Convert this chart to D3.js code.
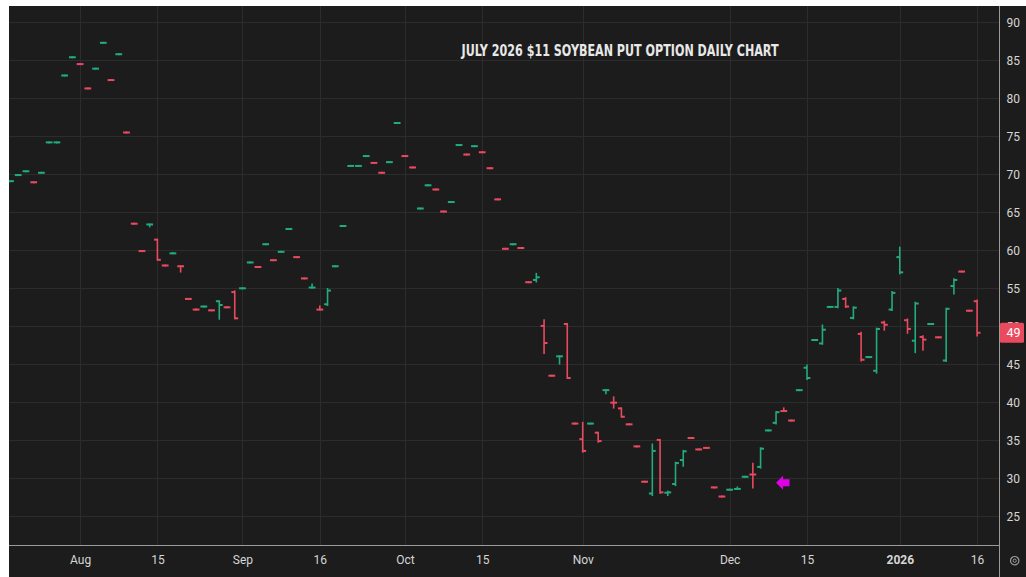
<!DOCTYPE html>
<html>
<head>
<meta charset="utf-8">
<script src="https://cdnjs.cloudflare.com/ajax/libs/d3/7.8.5/d3.min.js"></script>
<style>
  body { margin: 0; background: #ffffff; }
  svg { display: block; }
</style>
</head>
<body>
<div id="chart"></div>
<script>
// trading days shown on the chart
const dates = [
  "2025-07-21","2025-07-22","2025-07-23","2025-07-24","2025-07-25","2025-07-28","2025-07-29","2025-07-30","2025-07-31",
  "2025-08-01","2025-08-04","2025-08-05","2025-08-06","2025-08-07","2025-08-08","2025-08-11","2025-08-12","2025-08-13","2025-08-14","2025-08-15",
  "2025-08-18","2025-08-19","2025-08-20","2025-08-21","2025-08-22","2025-08-25","2025-08-26","2025-08-27","2025-08-28","2025-08-29",
  "2025-09-02","2025-09-03","2025-09-04","2025-09-05","2025-09-08","2025-09-09","2025-09-10","2025-09-11","2025-09-12","2025-09-15",
  "2025-09-16","2025-09-17","2025-09-18","2025-09-19","2025-09-22","2025-09-23","2025-09-24","2025-09-25","2025-09-26","2025-09-29","2025-09-30",
  "2025-10-01","2025-10-02","2025-10-03","2025-10-06","2025-10-07","2025-10-08","2025-10-09","2025-10-10","2025-10-13","2025-10-14","2025-10-15",
  "2025-10-16","2025-10-17","2025-10-20","2025-10-21","2025-10-22","2025-10-23","2025-10-24","2025-10-27","2025-10-28","2025-10-29","2025-10-30","2025-10-31",
  "2025-11-03","2025-11-04","2025-11-05","2025-11-06","2025-11-07","2025-11-10","2025-11-11","2025-11-12","2025-11-13","2025-11-14",
  "2025-11-17","2025-11-18","2025-11-19","2025-11-20","2025-11-21","2025-11-24","2025-11-25","2025-11-26","2025-11-28",
  "2025-12-01","2025-12-02","2025-12-03","2025-12-04","2025-12-05","2025-12-08","2025-12-09","2025-12-10","2025-12-11","2025-12-12",
  "2025-12-15","2025-12-16","2025-12-17","2025-12-18","2025-12-19","2025-12-22","2025-12-23","2025-12-24","2025-12-26","2025-12-29","2025-12-30","2025-12-31",
  "2026-01-02","2026-01-05","2026-01-06","2026-01-07","2026-01-08","2026-01-09","2026-01-12","2026-01-13","2026-01-14","2026-01-15","2026-01-16"
] ;

const opens = [
  69.1,69.9,70.4,68.95,70.2,74.2,74.2,83.0,85.4,
  84.5,81.3,83.9,87.3,82.4,85.8,75.5,63.5,59.9,63.4,61.4,58.0,59.6,57.9,53.6,52.2,52.6,52.1,53.3,52.5,54.5,
  55.0,58.4,57.8,60.8,58.7,59.8,62.8,59.1,56.3,55.1,52.2,52.9,57.9,63.2,71.1,71.1,72.4,71.5,70.2,71.6,76.75,
  72.4,70.9,65.5,68.55,68.0,65.1,66.35,73.85,72.6,73.7,72.9,70.8,66.7,60.2,60.8,60.3,55.8,56.1,50.05,43.5,46.05,50.3,37.2,
  35.15,37.2,36.0,41.6,39.95,39.2,37.1,34.2,29.55,28.0,35.05,28.1,29.25,32.4,35.3,33.8,34.0,28.8,27.6,
  28.5,28.6,30.2,30.5,31.5,36.3,37.3,38.85,37.6,41.6,44.55,48.2,47.75,52.55,52.55,53.6,51.1,49.0,45.95,44.15,50.5,52.2,
  59.1,50.8,48.1,48.6,50.3,48.55,45.5,55.3,57.2,52.05,53.3
] ;

const highs = [
  69.1,69.9,70.4,68.95,70.2,74.2,74.2,83.0,85.4,
  84.5,81.3,83.9,87.3,82.4,85.8,75.5,63.5,59.9,63.4,61.4,58.0,59.6,57.9,53.6,52.2,52.6,52.1,53.3,52.5,54.6,
  55.0,58.4,57.8,60.8,58.7,59.8,62.8,59.1,56.3,55.5,52.6,54.9,57.9,63.2,71.1,71.1,72.4,71.5,70.2,71.6,76.75,
  72.4,70.9,65.5,68.55,68.0,65.1,66.35,73.85,72.6,73.7,72.9,70.8,66.7,60.2,60.8,60.3,55.8,56.9,50.8,43.5,46.05,50.3,37.2,
  37.3,37.2,36.0,41.6,40.65,39.2,37.1,34.2,29.55,34.45,35.05,28.25,32.05,33.6,35.3,33.8,34.0,28.8,27.6,
  28.5,28.8,30.2,31.9,33.95,36.3,38.7,39.2,37.6,41.6,44.85,48.2,50.1,52.55,54.9,53.7,52.5,49.15,45.95,49.7,50.6,54.5,
  60.35,50.9,53.1,48.7,50.3,48.55,52.3,56.2,57.2,52.05,53.4
] ;

const lows = [
  69.1,69.9,70.4,68.95,70.2,74.2,74.2,83.0,85.4,
  84.5,81.3,83.9,87.3,82.4,85.8,75.5,63.5,59.9,63.15,58.75,58.0,59.6,57.2,53.6,52.2,52.6,52.1,51.0,52.5,51.05,
  55.0,58.4,57.8,60.8,58.7,59.8,62.8,59.1,56.3,55.1,52.2,52.8,57.9,63.2,71.1,71.1,72.4,71.5,70.2,71.6,76.75,
  72.4,70.9,65.5,68.55,68.0,65.1,66.35,73.85,72.6,73.7,72.9,70.8,66.7,60.2,60.8,60.3,55.8,55.9,46.5,43.5,45.1,43.2,37.2,
  33.5,37.2,34.8,41.2,39.3,38.1,37.1,34.2,29.55,27.8,28.1,27.8,29.1,31.65,35.3,33.8,34.0,28.8,27.6,
  28.5,28.6,30.2,28.8,31.4,36.3,37.2,38.85,37.6,41.6,43.05,48.2,47.7,52.55,52.5,52.55,51.05,45.5,45.95,43.9,49.55,52.15,
  56.97,49.15,46.6,46.9,50.3,48.55,45.45,54.3,57.2,52.05,48.8
] ;

const closes = [
  69.1,69.9,70.4,68.95,70.2,74.2,74.2,83.0,85.4,
  84.5,81.3,83.9,87.3,82.4,85.8,75.5,63.5,59.9,63.4,58.75,58.0,59.6,57.9,53.6,52.2,52.6,52.1,52.8,52.5,51.05,
  55.0,58.4,57.8,60.8,58.7,59.8,62.8,59.1,56.3,55.1,52.2,54.7,57.9,63.2,71.1,71.1,72.4,71.5,70.2,71.6,76.75,
  72.4,70.9,65.5,68.55,68.0,65.1,66.35,73.85,72.6,73.7,72.9,70.8,66.7,60.2,60.8,60.3,55.8,56.45,47.8,43.5,46.05,43.2,37.2,
  33.6,37.2,34.9,41.6,39.95,38.1,37.1,34.2,29.55,33.6,28.15,28.15,32.0,33.55,35.3,33.8,34.0,28.8,27.6,
  28.5,28.6,30.2,30.5,33.9,36.3,38.7,38.85,37.6,41.6,43.2,48.2,49.55,52.55,54.7,52.6,52.45,45.6,45.95,49.65,50.2,54.4,
  57.1,49.65,53.0,48.25,50.3,48.55,52.3,56.1,57.2,52.05,49.15
] ;

// up / down day as coloured on the source chart
const barSide = [
  "u","u","u","d","u","u","u","u","u",
  "d","d","u","u","d","u","d","d","d","u","d","d","u","d","d","d","u","d","u","d","d",
  "u","u","d","u","d","u","u","d","d","u","d","u","u","u","u","u","u","d","d","u","u",
  "d","d","u","u","d","d","u","u","d","u","d","d","d","d","u","d","d","u","d","d","u","d","d",
  "d","u","d","u","d","d","d","d","d","u","d","u","u","u","d","d","d","d","d",
  "u","u","u","d","u","u","u","d","d","u","u","u","u","u","u","d","u","d","u","u","d","u",
  "u","d","u","d","u","d","u","u","d","d","d"
] ;

const priceTicks = [25, 30, 35, 40, 45, 50, 55, 60, 65, 70, 75, 80, 85, 90] ;
const timeTickDates = ["2025-08-01","2025-08-15","2025-09-02","2025-09-16","2025-10-01","2025-10-15","2025-11-03","2025-12-01","2025-12-15","2026-01-02","2026-01-16"] ;
const timeTickLabels = ["Aug","15","Sep","16","Oct","15","Nov","Dec","15","2026","16"] ;

const chartTitle = "JULY 2026 $11 SOYBEAN PUT OPTION DAILY CHART" ;
const markerDate = "2025-12-09" ;
const markerPrice = 29.4 ;

const upColor = "#22ab7e" ;
const downColor = "#ea4a5e" ;

let dimensions = {
  width: 1026,
  height: 577,
  plot: { left: 9, top: 6, right: 999, bottom: 545 },
}

const svg = d3.select("#chart").append("svg")
  .attr("width", dimensions.width)
  .attr("height", dimensions.height)
  .style("font-family", "Roboto, 'Noto Sans', sans-serif")
;

// panel background
svg.append("rect")
  .attr("x", dimensions.plot.left)
  .attr("y", dimensions.plot.top)
  .attr("width", dimensions.width - dimensions.plot.left)
  .attr("height", dimensions.height - dimensions.plot.top)
  .attr("fill", "#1c1c1c")
;

const xScale = d3.scalePoint()
  .domain(dates)
  .range([10.5, 977.1])
;

const yScale = d3.scaleLinear()
  .domain([25, 90])
  .range([516.3, 22.3])
;

// grid
const grid = svg.append("g") ;
grid.selectAll("line.h")
  .data(priceTicks)
  .join("line")
    .attr("class", "h")
    .attr("x1", dimensions.plot.left)
    .attr("x2", dimensions.plot.right)
    .attr("y1", (d) => Math.round(yScale(d)) + 0.5)
    .attr("y2", (d) => Math.round(yScale(d)) + 0.5)
    .attr("stroke", "#2c2c2c")
;
grid.selectAll("line.v")
  .data(timeTickDates)
  .join("line")
    .attr("class", "v")
    .attr("x1", (d) => Math.round(xScale(d)) + 0.5)
    .attr("x2", (d) => Math.round(xScale(d)) + 0.5)
    .attr("y1", dimensions.plot.top)
    .attr("y2", dimensions.plot.bottom)
    .attr("stroke", "#2c2c2c")
;

// title
svg.append("text")
  .attr("x", 461.5)
  .attr("y", 56)
  .attr("textLength", 317)
  .attr("lengthAdjust", "spacingAndGlyphs")
  .attr("fill", "#e8e8e8")
  .style("font-family", "'DejaVu Sans Condensed', 'Liberation Sans Narrow', 'DejaVu Sans', sans-serif")
  .style("font-weight", "bold")
  .style("font-size", "15px")
  .text(chartTitle)
;

// OHLC bars
svg.append("clipPath").attr("id", "plotClip")
  .append("rect")
    .attr("x", dimensions.plot.left)
    .attr("y", dimensions.plot.top)
    .attr("width", dimensions.plot.right - dimensions.plot.left)
    .attr("height", dimensions.plot.bottom - dimensions.plot.top)
;

const bars = dates.map((d, i) => ({
  date: d, open: opens[i], high: highs[i], low: lows[i], close: closes[i], side: barSide[i]
})) ;

const tick = 3.4 ;
const barGroups = svg.append("g")
  .attr("clip-path", "url(#plotClip)")
  .selectAll("g")
  .data(bars)
  .join("g")
    .attr("stroke", (d) => d.side == "u" ? upColor : downColor)
;
barGroups.append("line")
  .attr("x1", (d) => xScale(d.date))
  .attr("x2", (d) => xScale(d.date))
  .attr("y1", (d) => yScale(d.high) - 1)
  .attr("y2", (d) => yScale(d.low) + 1)
  .attr("stroke-width", 1.6)
;
barGroups.append("line")
  .attr("x1", (d) => xScale(d.date) - tick)
  .attr("x2", (d) => xScale(d.date))
  .attr("y1", (d) => yScale(d.open))
  .attr("y2", (d) => yScale(d.open))
  .attr("stroke-width", 2)
;
barGroups.append("line")
  .attr("x1", (d) => xScale(d.date))
  .attr("x2", (d) => xScale(d.date) + tick)
  .attr("y1", (d) => yScale(d.close))
  .attr("y2", (d) => yScale(d.close))
  .attr("stroke-width", 2)
;

// magenta marker arrow
const mx = xScale(markerDate) ;
const my = yScale(markerPrice) ;
svg.append("path")
  .attr("d", `M${mx},${my} L${mx + 7},${my - 7} L${mx + 7},${my - 3.5} L${mx + 13.5},${my - 3.5} L${mx + 13.5},${my + 3.5} L${mx + 7},${my + 3.5} L${mx + 7},${my + 7} Z`)
  .attr("fill", "#e100e6")
;

// axes
const yAxis = svg.append("g")
  .attr("transform", `translate(${dimensions.plot.right}, 0)`)
  .call(d3.axisRight(yScale).tickValues(priceTicks).tickSize(0).tickPadding(7.5))
;
yAxis.select(".domain").remove() ;
yAxis.selectAll("text")
  .attr("fill", "#d6d6d6")
  .style("font-size", "12px")
  .style("font-family", "Roboto, sans-serif")
;

const xAxis = svg.append("g")
  .attr("transform", `translate(0, ${dimensions.plot.bottom})`)
  .call(d3.axisBottom(xScale).tickValues(timeTickDates).tickSize(0).tickPadding(10)
    .tickFormat((d, i) => timeTickLabels[i]))
;
xAxis.select(".domain").remove() ;
xAxis.selectAll("text")
  .attr("fill", "#d6d6d6")
  .style("font-size", "12px")
  .style("font-family", "Roboto, sans-serif")
  .style("font-weight", (d, i) => timeTickLabels[i] == "2026" ? "bold" : "normal")
;

// axis borders
svg.append("line")
  .attr("x1", dimensions.plot.left).attr("x2", dimensions.plot.right)
  .attr("y1", dimensions.plot.bottom + 0.5).attr("y2", dimensions.plot.bottom + 0.5)
  .attr("stroke", "#9a9a9a")
;
svg.append("line")
  .attr("x1", dimensions.plot.right + 0.5).attr("x2", dimensions.plot.right + 0.5)
  .attr("y1", dimensions.plot.top).attr("y2", dimensions.height)
  .attr("stroke", "#9a9a9a")
;

// last price label
const lastClose = closes[closes.length - 1] ;
const lastY = yScale(lastClose) ;
svg.append("rect")
  .attr("x", dimensions.plot.right + 1)
  .attr("y", lastY - 10)
  .attr("width", 24)
  .attr("height", 20)
  .attr("rx", 1.5)
  .attr("fill", downColor)
;
svg.append("text")
  .attr("x", dimensions.plot.right + 7.5)
  .attr("y", lastY)
  .attr("dy", "0.35em")
  .attr("fill", "#ffffff")
  .style("font-size", "12.5px")
  .style("font-family", "Roboto, sans-serif")
  .text(d3.format(".0f")(lastClose))
;

// settings glyph in the corner
const gear = svg.append("g").attr("transform", "translate(1014.7, 560.7)") ;
gear.append("circle").attr("r", 4.2).attr("fill", "none").attr("stroke", "#9a9a9a").attr("stroke-width", 1.2) ;
gear.append("circle").attr("r", 1.6).attr("fill", "none").attr("stroke", "#9a9a9a").attr("stroke-width", 1) ;
</script>
</body>
</html>
